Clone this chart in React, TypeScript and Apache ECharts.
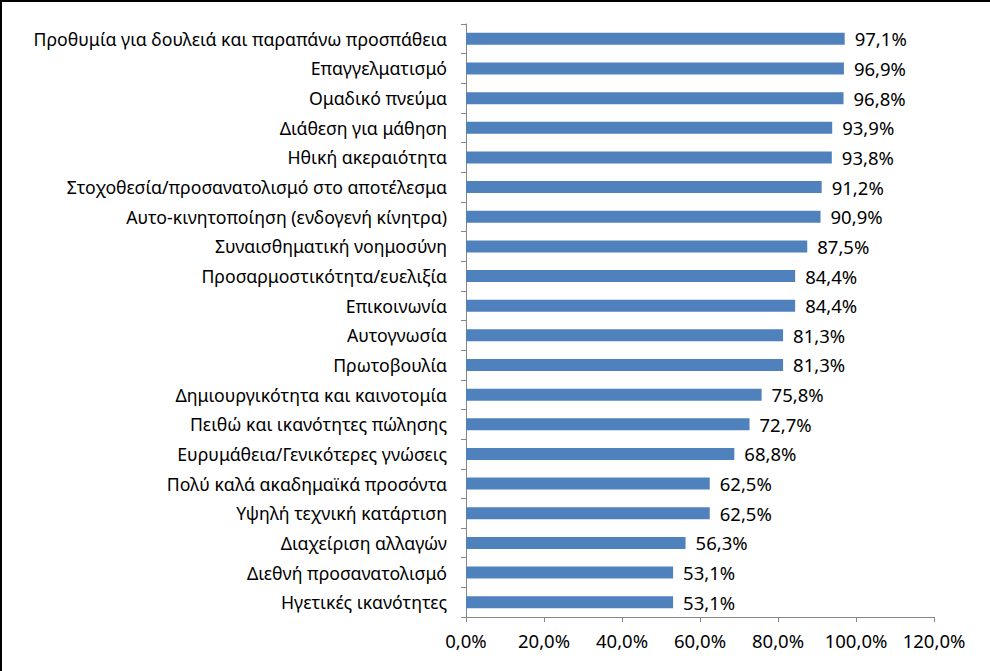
import React, { useEffect, useRef } from "react";
import * as echarts from "echarts";

const categories = [
  "Προθυμία για δουλειά και παραπάνω προσπάθεια",
  "Επαγγελματισμό",
  "Ομαδικό πνεύμα",
  "Διάθεση για μάθηση",
  "Ηθική ακεραιότητα",
  "Στοχοθεσία/προσανατολισμό στο αποτέλεσμα",
  "Αυτο-κινητοποίηση (ενδογενή κίνητρα)",
  "Συναισθηματική νοημοσύνη",
  "Προσαρμοστικότητα/ευελιξία",
  "Επικοινωνία",
  "Αυτογνωσία",
  "Πρωτοβουλία",
  "Δημιουργικότητα και καινοτομία",
  "Πειθώ και ικανότητες πώλησης",
  "Ευρυμάθεια/Γενικότερες γνώσεις",
  "Πολύ καλά ακαδημαϊκά προσόντα",
  "Υψηλή τεχνική κατάρτιση",
  "Διαχείριση αλλαγών",
  "Διεθνή προσανατολισμό",
  "Ηγετικές ικανότητες",
];

const values = [
  97.1, 96.9, 96.8, 93.9, 93.8, 91.2, 90.9, 87.5, 84.4, 84.4, 81.3, 81.3, 75.8,
  72.7, 68.8, 62.5, 62.5, 56.3, 53.1, 53.1,
];

const axisMin = 0;
const axisMax = 120;
const axisStep = 20;

const fmt = (v: number) => v.toFixed(1).replace(".", ",") + "%";

export default function App() {
  const ref = useRef<HTMLDivElement>(null);
  useEffect(() => {
    document.body.style.margin = "0";
    if (!ref.current) return;
    const chart = echarts.init(ref.current, null, { renderer: "svg" });
    const font = "'Noto Sans', sans-serif";
    chart.setOption({
      animation: false,
      grid: { left: 466, top: 24, right: 56, bottom: 54, containLabel: false },
      xAxis: {
        type: "value",
        min: axisMin,
        max: axisMax,
        interval: axisStep,
        splitLine: { show: false },
        axisLine: { show: true, lineStyle: { color: "#868686", width: 1 } },
        axisTick: { show: true, length: 5, lineStyle: { color: "#868686" } },
        axisLabel: {
          formatter: (v: number) => fmt(v),
          color: "#000",
          fontFamily: font,
          fontSize: 18.5,
          margin: 14,
        },
      },
      yAxis: {
        type: "category",
        data: categories,
        inverse: true,
        axisLine: { show: true, lineStyle: { color: "#868686", width: 1 } },
        axisTick: { show: true, length: 5, lineStyle: { color: "#868686" } },
        axisLabel: {
          color: "#000",
          fontFamily: font,
          fontSize: 17.7,
          margin: 19,
        },
      },
      series: [
        {
          type: "bar",
          data: values,
          barWidth: 12,
          itemStyle: { color: "#4F81BD" },
          label: {
            show: true,
            position: "right",
            distance: 10,
            formatter: (p: any) => fmt(p.value),
            color: "#000",
            fontFamily: font,
            fontSize: 18.5,
          },
        },
      ],
    });
    return () => chart.dispose();
  }, []);
  return (
    <div style={{ width: 990, height: 671, position: "relative", background: "#fff" }}>
      <div ref={ref} style={{ width: 990, height: 671, position: "absolute", left: 0, top: 0 }} />
      <div
        style={{
          position: "absolute",
          left: 0,
          top: 0,
          width: 990,
          height: 671,
          boxSizing: "border-box",
          borderTop: "2px solid #000",
          borderLeft: "2px solid #000",
          pointerEvents: "none",
        }}
      />
    </div>
  );
}
